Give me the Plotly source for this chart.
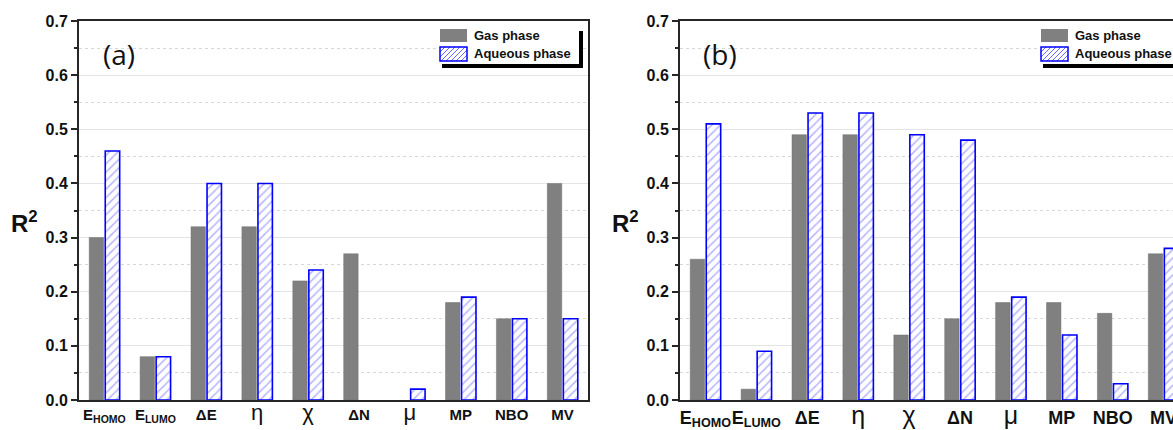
import plotly.graph_objects as go

W, H = 1173, 430

categories = ["EHOMO", "ELUMO", "dE", "eta", "chi", "dN", "mu", "MP", "NBO", "MV"]
labels_a = ["E<sub>HOMO</sub>", "E<sub>LUMO</sub>", "ΔE",
            "<span style='font-size:22px;font-weight:normal'>η</span>",
            "<span style='font-size:22px;font-weight:normal'>χ</span>",
            "ΔN", "<span style='font-size:22px;font-weight:normal'>μ</span>", "MP", "NBO", "MV"]
labels_b = ["E<sub>HOMO</sub>", "E<sub>LUMO</sub>", "ΔE",
            "<span style='font-size:25px;font-weight:normal'>η</span>",
            "<span style='font-size:25px;font-weight:normal'>χ</span>",
            "ΔN", "<span style='font-size:25px;font-weight:normal'>μ</span>", "MP", "NBO", "MV"]

gas_a = [0.30, 0.08, 0.32, 0.32, 0.22, 0.27, None, 0.18, 0.15, 0.40]
aq_a = [0.46, 0.08, 0.40, 0.40, 0.24, None, 0.02, 0.19, 0.15, 0.15]
gas_b = [0.26, 0.02, 0.49, 0.49, 0.12, 0.15, 0.18, 0.18, 0.16, 0.27]
aq_b = [0.51, 0.09, 0.53, 0.53, 0.49, 0.48, 0.19, 0.12, 0.03, 0.28]

yticks = [0.0, 0.1, 0.2, 0.3, 0.4, 0.5, 0.6, 0.7]

GRAY = "#808080"
BLUE = "#0000ff"
HATCH = "#6a6aff"
FONT = "Liberation Sans, Arial"


def px(x):
    return x / W


def py(y):
    return 1 - y / H


fig = go.Figure()

for gas, aq, xa, ya in [(gas_a, aq_a, "x", "y"), (gas_b, aq_b, "x2", "y2")]:
    fig.add_trace(go.Bar(x=categories, y=gas, name="Gas phase",
                         marker=dict(color=GRAY, line=dict(color="#6e6e6e", width=0.5)),
                         xaxis=xa, yaxis=ya, showlegend=False))
    fig.add_trace(go.Bar(x=categories, y=aq, name="Aqueous phase",
                         marker=dict(color="white", line=dict(color=BLUE, width=1.6),
                                     pattern=dict(shape="/", fgcolor=HATCH, bgcolor="white", size=6, solidity=0.25)),
                         xaxis=xa, yaxis=ya, showlegend=False))

catw = (588 - 79) / 10.0
x2_end = 9.5 - (680 + 509 - W) / catw

common_x = dict(showline=True, linecolor="#262626", linewidth=2, mirror=True, ticks="",
                showgrid=False, zeroline=False, automargin=False, tickvals=categories, tickangle=0)
common_y = dict(range=[0, 0.7], tickvals=yticks, tickformat=".1f", showline=True, linecolor="#262626",
                linewidth=2, ticks="outside", ticklen=6, tickwidth=1.5, tickcolor="#262626",
                showgrid=True, gridcolor="#e4e4e4", gridwidth=1, zeroline=False, automargin=False,
                tickfont=dict(family=FONT, size=16, color="#111", weight="bold"),
                minor=dict(dtick=0.05, ticks="outside", ticklen=3, tickcolor="#262626",
                           showgrid=True, gridcolor="#d8d8d8", griddash="dot", gridwidth=1))

fig.update_layout(
    width=W, height=H, margin=dict(l=0, r=0, t=0, b=0),
    paper_bgcolor="white", plot_bgcolor="white",
    barmode="group", bargap=0.37, bargroupgap=0.1,
    xaxis=dict(domain=[px(79), px(588)], range=[-0.5, 9.5], ticktext=labels_a, anchor="y",
               tickfont=dict(family=FONT, size=15, color="#111", weight="bold"), **common_x),
    yaxis=dict(domain=[py(400), py(21)], anchor="x", mirror=True, **common_y),
    xaxis2=dict(domain=[px(680), 1.0], range=[-0.5, x2_end], ticktext=labels_b, anchor="y2",
                tickfont=dict(family=FONT, size=18, color="#111", weight="bold"), **common_x),
    yaxis2=dict(domain=[py(400), py(21)], anchor="x2", mirror=False, **common_y),
    showlegend=False,
)

shapes = []
annotations = []
for ox, tag in [(0, "(a)"), (601, "(b)")]:
    annotations.append(dict(x=px(119 + ox), y=py(54), xref="paper", yref="paper", text=tag, showarrow=False,
                            font=dict(family="Open Sans, Liberation Sans", size=28, color="#111"),
                            xanchor="center", yanchor="middle"))
    annotations.append(dict(x=px(24 + ox), y=py(222), xref="paper", yref="paper", text="<b>R<sup>2</sup></b>",
                            showarrow=False, font=dict(family=FONT, size=24, color="#111"),
                            xanchor="center", yanchor="middle"))
    shapes.append(dict(type="rect", xref="paper", yref="paper", x0=px(437 + ox), x1=px(579 + ox),
                       y0=py(63), y1=py(24), fillcolor="white", line=dict(width=0)))
    shapes.append(dict(type="rect", xref="paper", yref="paper", x0=px(579 + ox), x1=px(583 + ox),
                       y0=py(68), y1=py(31), fillcolor="black", line=dict(width=0)))
    shapes.append(dict(type="rect", xref="paper", yref="paper", x0=px(442 + ox), x1=px(583 + ox),
                       y0=py(68), y1=py(64), fillcolor="black", line=dict(width=0)))
    shapes.append(dict(type="rect", xref="paper", yref="paper", x0=px(440 + ox), x1=px(467 + ox),
                       y0=py(42), y1=py(29), fillcolor=GRAY, line=dict(width=0)))
    x0s, x1s, y0s, y1s = 440 + ox, 467 + ox, 47, 61
    path = ""
    step = 5
    h = y1s - y0s
    start = x0s - h
    while start < x1s:
        ax, ay = start, y1s
        bx, by = start + h, y0s
        if ax < x0s:
            ay = y1s - (x0s - ax)
            ax = x0s
        if bx > x1s:
            by = y0s + (bx - x1s)
            bx = x1s
        if bx > ax:
            path += f"M{px(ax)},{py(ay)} L{px(bx)},{py(by)} "
        start += step
    shapes.append(dict(type="path", xref="paper", yref="paper", path=path, line=dict(color=HATCH, width=1)))
    shapes.append(dict(type="rect", xref="paper", yref="paper", x0=px(x0s), x1=px(x1s),
                       y0=py(y1s), y1=py(y0s), fillcolor="rgba(0,0,0,0)", line=dict(color=BLUE, width=1.5)))
    annotations.append(dict(x=px(472 + ox), y=py(35), xref="paper", yref="paper", text="<b>Gas phase</b>",
                            showarrow=False, font=dict(family=FONT, size=13, color="#111"),
                            xanchor="left", yanchor="middle"))
    annotations.append(dict(x=px(472 + ox), y=py(54), xref="paper", yref="paper", text="<b>Aqueous phase</b>",
                            showarrow=False, font=dict(family=FONT, size=13, color="#111"),
                            xanchor="left", yanchor="middle"))

fig.update_layout(shapes=shapes, annotations=annotations)
fig.write_html("out.html", config={"displayModeBar": False},
               post_script="document.body.style.margin='0';document.body.style.overflow='hidden';")
